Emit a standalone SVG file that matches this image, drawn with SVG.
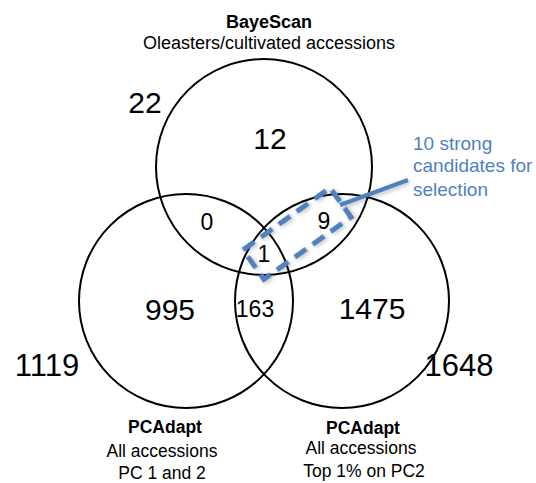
<svg xmlns="http://www.w3.org/2000/svg" width="536" height="483" viewBox="0 0 536 483">
<defs>
<style>
text{font-family:"Liberation Sans",Arial,Helvetica,sans-serif;fill:#000}
.c{fill:none;stroke:#000;stroke-width:2}
.t{font-size:17.5px;text-anchor:middle}
.top{font-size:18px}
.b{font-weight:bold}
.n{text-anchor:middle}
.blue{fill:#4F81BD;font-size:19px}
.sel{fill:none;stroke:#4F81BD;stroke-width:5;stroke-dasharray:14 8}
</style>
<filter id="sh" x="-20%" y="-20%" width="140%" height="140%">
<feDropShadow dx="1" dy="2" stdDeviation="2" flood-color="#000" flood-opacity="0.25"/>
</filter>
</defs>
<rect width="536" height="483" fill="#fff"/>
<g id="bayescan">
<circle class="c" cx="264" cy="167" r="108"/>
<text class="t top b" x="269" y="28">BayeScan</text>
<text class="t top" x="269" y="49">Oleasters/cultivated accessions</text>
<text x="145" y="113" font-size="30" class="n">22</text>
<text x="270" y="149" font-size="30" class="n">12</text>
</g>
<g id="pcadapt-left">
<circle class="c" cx="186" cy="301" r="107"/>
<text class="t b" x="165" y="433">PCAdapt</text>
<text class="t" x="162" y="457">All accessions</text>
<text class="t" x="162" y="479">PC 1 and 2</text>
<text x="47" y="376" font-size="31" class="n">1119</text>
<text x="170" y="320" font-size="30" class="n">995</text>
</g>
<g id="pcadapt-right">
<circle class="c" cx="342" cy="301" r="107"/>
<text class="t b" x="363" y="434">PCAdapt</text>
<text class="t" x="361" y="454">All accessions</text>
<text class="t" x="364" y="477">Top 1% on PC2</text>
<text x="459" y="376" font-size="31" class="n">1648</text>
<text x="372" y="319" font-size="30" class="n">1475</text>
</g>
<g id="intersections">
<text x="207" y="230" font-size="23" class="n">0</text>
<text x="264" y="262" font-size="23" class="n">1</text>
<text x="324" y="229" font-size="23" class="n">9</text>
<text x="255" y="317" font-size="23" class="n">163</text>
</g>
<g id="selection">
<rect class="sel" filter="url(#sh)" x="243.5" y="215.5" width="107" height="36" transform="rotate(-35.5 297 233.5)"/>
</g>
<g id="callout">
<text class="blue" x="413" y="150">10 strong</text>
<text class="blue" x="413" y="172">candidates for</text>
<text class="blue" x="413" y="196">selection</text>
</g>
<g id="connectors">
<line x1="340" y1="205" x2="408" y2="180" stroke="#4F81BD" stroke-width="4" filter="url(#sh)"/>
</g>
</svg>
